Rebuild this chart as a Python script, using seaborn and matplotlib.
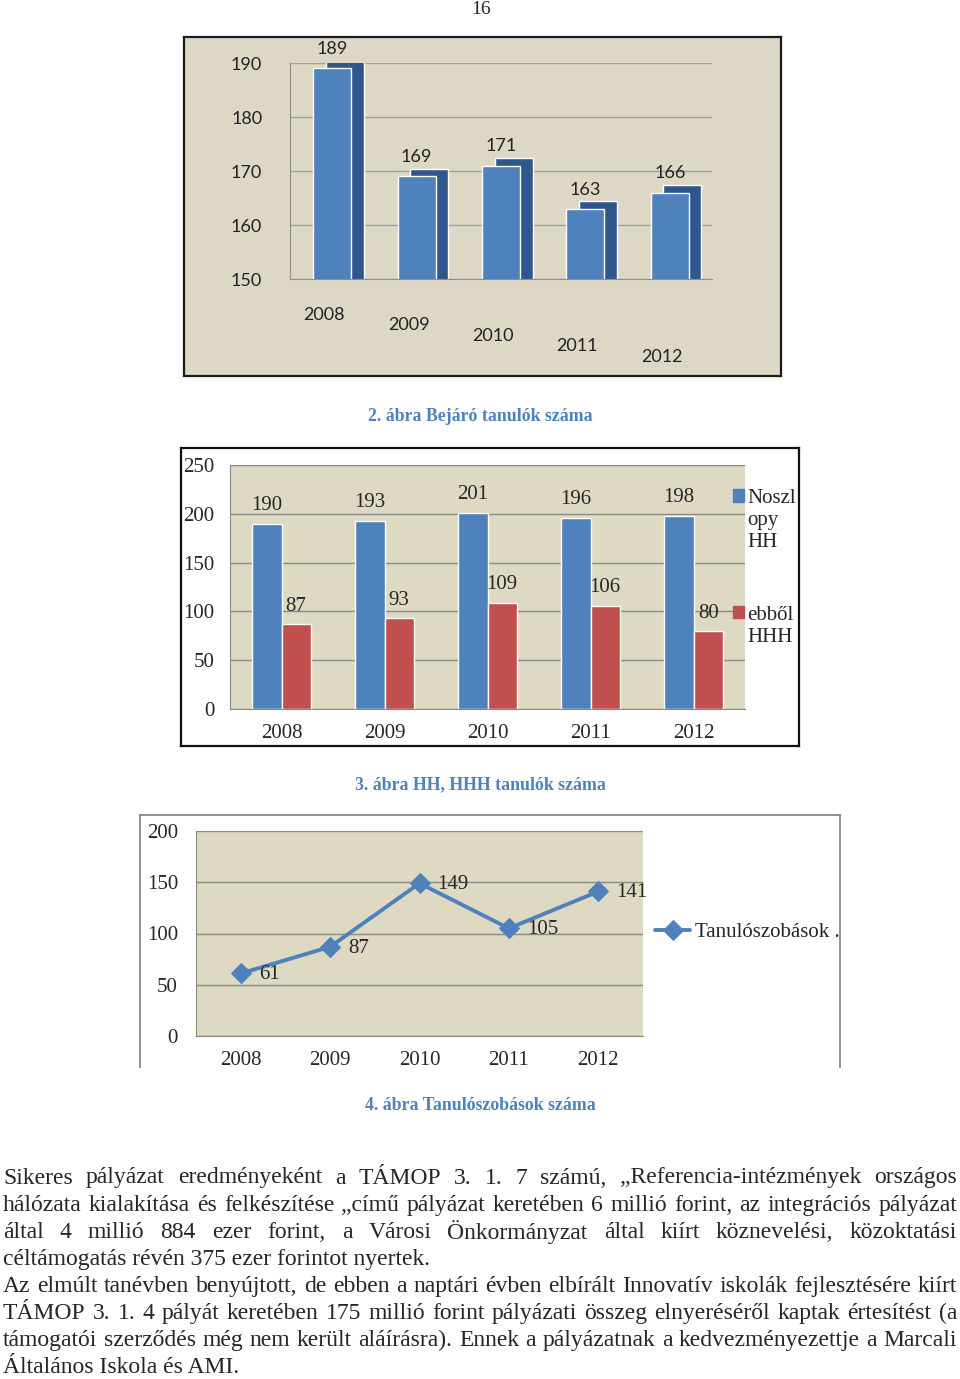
import numpy as np
import pandas as pd
import matplotlib
matplotlib.use('Agg')
import matplotlib.pyplot as plt
import seaborn as sns
from matplotlib.patches import Patch
from matplotlib.transforms import ScaledTranslation

# data
years = ['2008', '2009', '2010', '2011', '2012']
bejaro = [189, 169, 171, 163, 166]
noszlopy_hh = [190, 193, 201, 196, 198]
ebbol_hhh = [87, 93, 109, 106, 80]
tanuloszoba = [61, 87, 149, 105, 141]

series_names = ['Noszlopy HH', 'ebből HHH']
legend_labels = ['Noszl\nopy\nHH', 'ebből\nHHH']
line_label = 'Tanulószobások .'

page_number = '16'
caption2 = '2. ábra Bejáró tanulók száma'
caption3 = '3. ábra HH, HHH tanulók száma'
caption4 = '4. ábra Tanulószobások száma'

paragraph = [
    ('Sikeres pályázat eredményeként a TÁMOP 3. 1. 7 számú, „Referencia-intézmények országos', True),
    ('hálózata kialakítása és felkészítése „című pályázat keretében 6 millió forint, az integrációs pályázat', True),
    ('által 4 millió 884 ezer forint, a Városi Önkormányzat által kiírt köznevelési, közoktatási', True),
    ('céltámogatás révén 375 ezer forintot nyertek.', False),
    ('Az elmúlt tanévben benyújtott, de ebben a naptári évben elbírált Innovatív iskolák fejlesztésére kiírt', True),
    ('TÁMOP 3. 1. 4 pályát keretében 175 millió forint pályázati összeg elnyeréséről kaptak értesítést (a', True),
    ('támogatói szerződés még nem került aláírásra). Ennek a pályázatnak a kedvezményezettje a Marcali', True),
    ('Általános Iskola és AMI.', False),
]

# styling
sns.set_style('white')
plt.rcParams['font.family'] = ['Liberation Serif', 'DejaVu Serif']
BLUE = '#4F81BD'
BLUE_DARK = '#30578C'
RED = '#C0504D'
BEIGE = '#DDD9C3'
GRID = '#8A8A8A'
CAPTION = '#4F81BD'

W, H = 960, 1379
fig = plt.figure(figsize=(9.6, 13.79), dpi=100, facecolor='white')


def box(x0, y0, x1, y1):
    return [x0 / W, 1 - y1 / H, (x1 - x0) / W, (y1 - y0) / H]


def frame(rect, face, edge, lw, bottom=True):
    f = fig.add_axes(rect)
    f.set_facecolor(face)
    f.set_xticks([])
    f.set_yticks([])
    for s in f.spines.values():
        s.set_color(edge)
        s.set_linewidth(lw)
    f.spines['bottom'].set_visible(bottom)
    return f


fig.text(481 / W, 1 - 9 / H, page_number, ha='center', va='center', fontsize=14)

# ---- chart 1: 3d-looking column chart ----
frame(box(184, 37, 781, 376), '#DDD8C5', '#1A1A1A', 1.6)
ax1 = fig.add_axes(box(290, 63, 712, 279))
ax1.patch.set_alpha(0)
pos = np.arange(len(years))
df1 = pd.DataFrame({'pos': pos, 'value': bejaro})
# darker side/top layer, then front face
sns.barplot(x=df1['pos'] + 0.15, y=df1['value'] + 1.4, native_scale=True, width=0.45,
            color=BLUE_DARK, saturation=1, ax=ax1)
sns.barplot(x=df1['pos'], y=df1['value'], native_scale=True, width=0.45,
            color=BLUE, saturation=1, ax=ax1)
ax1.bar_label(ax1.containers[1], labels=[str(v) for v in bejaro], padding=8,
              fontsize=13, family='Lato', color='#222222')
ax1.set_xlim(-0.5, 4.5)
ax1.set_ylim(150, 190)
ax1.set_yticks([150, 160, 170, 180, 190])
ax1.set_yticklabels(['150', '160', '170', '180', '190'], family='Lato', fontsize=13, color='#222222')
ax1.set_xticks(pos)
ax1.set_xticklabels(years, family='Lato', fontsize=13, color='#222222')
ax1.tick_params(axis='y', length=0, pad=20)
ax1.tick_params(axis='x', length=0, pad=20)
for i, lab in enumerate(ax1.get_xticklabels()):
    lab.set_transform(lab.get_transform() + ScaledTranslation(-8 / 100, -i * 10.5 / 100, fig.dpi_scale_trans))
ax1.yaxis.grid(True, color='#A0A0A0', lw=1)
ax1.set_axisbelow(True)
ax1.set_xlabel('')
ax1.set_ylabel('')
for s in ['top', 'right']:
    ax1.spines[s].set_visible(False)
for s in ['left', 'bottom']:
    ax1.spines[s].set_color('#8F8F8F')

fig.text(480 / W, 1 - 417 / H, caption2, ha='center', va='center', fontsize=12.8,
         fontweight='bold', color=CAPTION)

# ---- chart 2: grouped columns ----
frame(box(181, 448, 799, 746), 'white', '#111111', 1.6)
ax2 = fig.add_axes(box(230, 465, 745, 709))
ax2.set_facecolor(BEIGE)
df2 = pd.DataFrame({
    'year': years * 2,
    'series': [series_names[0]] * 5 + [series_names[1]] * 5,
    'value': noszlopy_hh + ebbol_hhh,
})
sns.barplot(data=df2, x='year', y='value', hue='series', palette=[BLUE, RED],
            width=0.57, saturation=1, gap=0, ax=ax2, legend=False)
for cont, vals in zip(ax2.containers, [noszlopy_hh, ebbol_hhh]):
    ax2.bar_label(cont, labels=[str(v) for v in vals], padding=6, fontsize=15)
ax2.set_ylim(0, 250)
ax2.set_yticks(range(0, 251, 50))
ax2.tick_params(axis='y', length=0, pad=11, labelsize=15)
ax2.tick_params(axis='x', length=0, pad=11, labelsize=15)
ax2.set_xticks(np.arange(-0.5, 5, 1), minor=True)
ax2.tick_params(axis='x', which='minor', length=6, color=GRID)
ax2.set_xlim(-0.5, 4.5)
ax2.yaxis.grid(True, color=GRID, lw=1)
ax2.set_axisbelow(True)
ax2.set_xlabel('')
ax2.set_ylabel('')
for s in ['top', 'right']:
    ax2.spines[s].set_visible(False)
for s in ['left', 'bottom']:
    ax2.spines[s].set_color(GRID)
leg2 = ax2.legend([Patch(color=BLUE), Patch(color=RED)], legend_labels,
                  loc='upper left', bbox_to_anchor=(733 / W, 1 - 489 / H), bbox_transform=fig.transFigure,
                  frameon=False, fontsize=15, handlelength=0.55, handleheight=0.55,
                  handletextpad=0.15, labelspacing=2.6, borderpad=0, borderaxespad=0)
# put the colour squares next to the first line of each label
for col in leg2._legend_handle_box.get_children():
    for row in col.get_children():
        row.align = 'top'

fig.text(480 / W, 1 - 785 / H, caption3, ha='center', va='center', fontsize=12.8,
         fontweight='bold', color=CAPTION)

# ---- chart 3: line chart ----
frame(box(140, 815, 840, 1067), 'white', '#7F7F7F', 1.2, bottom=False)
ax3 = fig.add_axes(box(196, 831, 643, 1036))
ax3.set_facecolor(BEIGE)
df3 = pd.DataFrame({'year': years, 'value': tanuloszoba})
sns.lineplot(data=df3, x='year', y='value', color=BLUE, lw=2.8, marker='D', markersize=10,
             markeredgecolor=BLUE, label=line_label, ax=ax3)
for i, v in enumerate(tanuloszoba):
    ax3.annotate(str(v), (i, v), xytext=(13, -1), textcoords='offset points',
                 ha='left', va='center', fontsize=15)
ax3.set_xlim(-0.5, 4.5)
ax3.set_ylim(0, 200)
ax3.set_yticks(range(0, 201, 50))
ax3.tick_params(axis='y', length=0, pad=13, labelsize=15)
ax3.tick_params(axis='x', length=0, pad=11, labelsize=15)
ax3.set_xticks(np.arange(-0.5, 5, 1), minor=True)
ax3.tick_params(axis='x', which='minor', length=6, color=GRID)
ax3.yaxis.grid(True, color=GRID, lw=1)
ax3.set_axisbelow(True)
ax3.set_xlabel('')
ax3.set_ylabel('')
for s in ['top', 'right']:
    ax3.spines[s].set_visible(False)
for s in ['left', 'bottom']:
    ax3.spines[s].set_color(GRID)
ax3.legend(loc='center left', bbox_to_anchor=(655 / W, 1 - 932 / H), bbox_transform=fig.transFigure,
           frameon=False, fontsize=15, handlelength=1.7, handletextpad=0.2, borderpad=0, borderaxespad=0)

fig.text(480 / W, 1 - 1106 / H, caption4, ha='center', va='center', fontsize=12.8,
         fontweight='bold', color=CAPTION)

# ---- body text, justified ----
FS = 17
LEFT, RIGHT = 3, 957
renderer = fig.canvas.get_renderer()
for k, (line, justify) in enumerate(paragraph):
    y = 1 - (1178 + k * 27.1) / H
    if not justify:
        fig.text(LEFT / W, y, line, fontsize=FS, va='center', ha='left')
        continue
    words = line.split(' ')
    texts = [fig.text(0, y, w, fontsize=FS, va='center', ha='left') for w in words]
    widths = [t.get_window_extent(renderer).width for t in texts]
    gap = (RIGHT - LEFT - sum(widths)) / (len(words) - 1)
    x = LEFT
    for t, w in zip(texts, widths):
        t.set_x(x / W)
        x += w + gap

fig.savefig('out.png', dpi=100, facecolor='white')
